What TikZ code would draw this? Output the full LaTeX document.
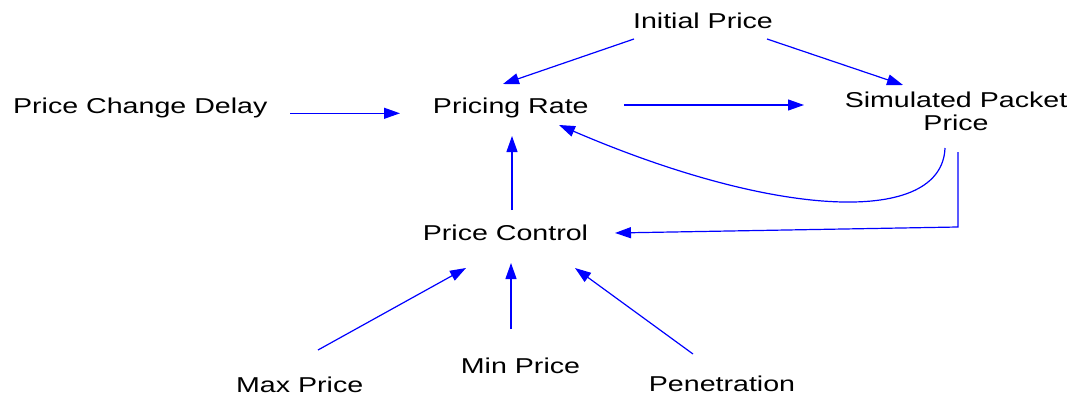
\documentclass[tikz,border=0pt]{standalone}
\usepackage{fontspec}
\setmainfont[FakeStretch=1.33]{Liberation Sans}
\usepackage{tikz}
\usetikzlibrary{arrows.meta, calc}
\definecolor{trait}{HTML}{0000FF}
\tikzset{
  varbox/.style={inner sep=0, font=\fontsize{21.5}{22.7}\selectfont,
    align=center, text=black},
  influence/.style={-{Triangle[length=16pt, width=11pt]}, line width=1.2pt,
    color=trait}
}

\begin{document}
\begin{tikzpicture}[x=1pt, y=-1pt]
    \useasboundingbox (0,0) rectangle (1076,396);
    \node[varbox, anchor=base] (init) at (703,28.3) {Initial Price};
    \node[varbox, anchor=base] (delai) at (140.3,113.3) {Price Change Delay};
    \node[varbox, anchor=base] (taux) at (510.8,113.3) {Pricing Rate};
    \node[varbox] (simu) at (956,111) {Simulated Packet\\ Price};
    \node[varbox, anchor=base] (ctrl) at (505.5,240.7) {Price Control};
    \node[varbox, anchor=base] (pmax) at (299.7,392.3) {Max Price};
    \node[varbox, anchor=base] (pmin) at (520.5,373.3) {Min Price};
    \node[varbox, anchor=base] (penet) at (722,391.7) {Penetration};

    \coordinate (coin) at ($(simu)+(2,116)$);

    \draw[influence] ($(init.base)+(-69,10.7)$) -- ($(taux.base)+(-7.8,-29.3)$);
    \draw[influence] ($(init.base)+(64,10.7)$) -- ($(simu)+(-53,-26)$);
    \draw[influence] ($(delai.base)+(149.7,0)$) -- ($(taux.base)+(-110.8,0)$);
    \draw[influence] ($(taux.base)+(113.2,-8.3)$) -- ($(simu)+(-152,-6)$);
    \draw[influence] ($(simu)+(-11,37)$) .. controls +(-3,77) and +(221,95) .. ($(taux.base)+(48.2,11.7)$);
    \draw[influence] ($(simu)+(2,41)$) -- (coin) -- ($(ctrl.base)+(109.5,-7.7)$);
    \draw[influence] ($(ctrl.base)+(6.5,-30.7)$) -- ($(taux.base)+(1.2,22.7)$);
    \draw[influence] ($(pmax.base)+(18.3,-42.3)$) -- ($(ctrl.base)+(-39.5,27.3)$);
    \draw[influence] ($(pmin.base)+(-9.5,-44.3)$) -- ($(ctrl.base)+(5.5,22.3)$);
    \draw[influence] ($(penet.base)+(-29,-37.7)$) -- ($(ctrl.base)+(69.5,27.3)$);
\end{tikzpicture}
\end{document}
